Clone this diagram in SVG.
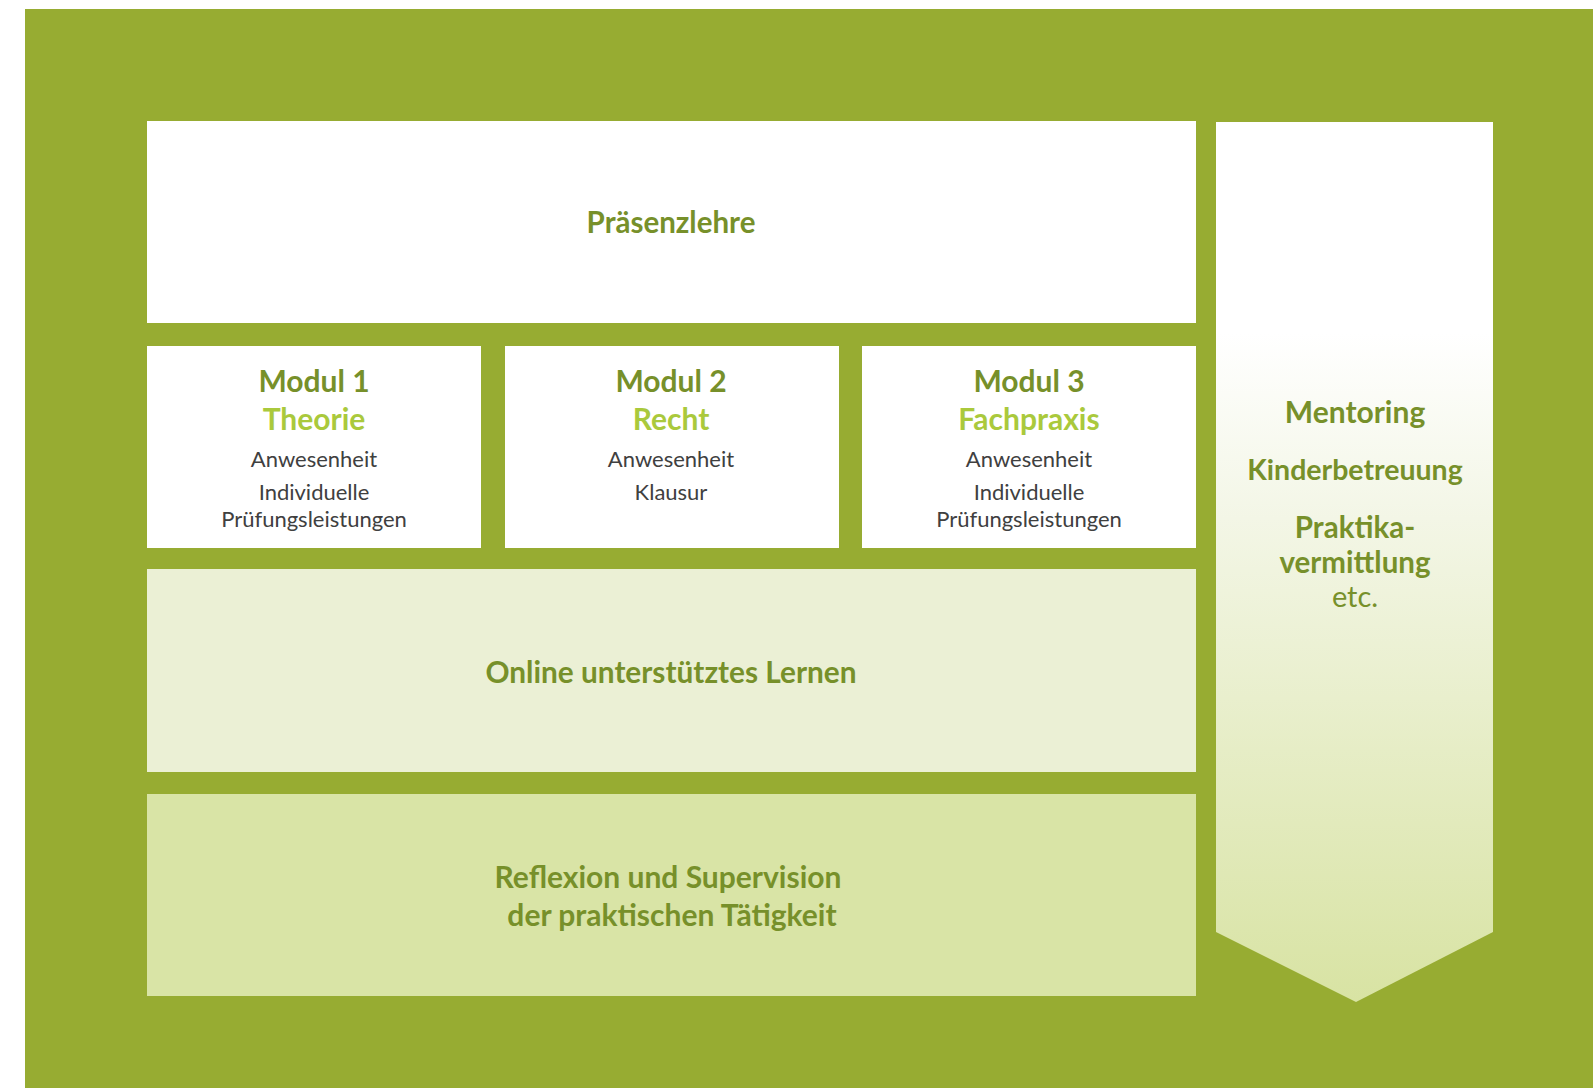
<svg xmlns="http://www.w3.org/2000/svg" width="1593" height="1088" viewBox="0 0 1593 1088">
  <defs>
    <linearGradient id="arrowFill" x1="0" y1="122" x2="0" y2="1002" gradientUnits="userSpaceOnUse">
      <stop offset="0" stop-color="#ffffff"/>
      <stop offset="0.24" stop-color="#ffffff"/>
      <stop offset="0.45" stop-color="#f3f6e6"/>
      <stop offset="1" stop-color="#d8e3a3"/>
    </linearGradient>
    <style>
      text { font-family: Lato, "Open Sans", "Liberation Sans", sans-serif; text-anchor: middle; }
      .head { font-weight: bold; fill: #77902a; }
      .sub { font-weight: bold; fill: #aac93c; }
      .body { fill: #404040; font-size: 22px; }
      .white { fill: #ffffff; }
    </style>
  </defs>

  <!-- frame -->
  <rect x="0" y="0" width="1593" height="1088" fill="#ffffff"/>
  <rect x="25" y="9" width="1568" height="1079" fill="#97ac32"/>

  <g id="praesenzlehre">
    <rect class="white" x="147" y="121" width="1049" height="202"/>
    <text class="head" x="671" y="233" font-size="29.5">Präsenzlehre</text>
  </g>

  <g id="modul1">
    <rect class="white" x="147" y="346" width="334" height="202"/>
    <text class="head" x="314" y="392" font-size="30">Modul 1</text>
    <text class="sub" x="314" y="430" font-size="30">Theorie</text>
    <text class="body" x="314" y="467">Anwesenheit</text>
    <text class="body" x="314" y="500">Individuelle</text>
    <text class="body" x="314" y="527">Prüfungsleistungen</text>
  </g>

  <g id="modul2">
    <rect class="white" x="505" y="346" width="334" height="202"/>
    <text class="head" x="671" y="392" font-size="30">Modul 2</text>
    <text class="sub" x="671" y="430" font-size="30">Recht</text>
    <text class="body" x="671" y="467">Anwesenheit</text>
    <text class="body" x="671" y="500">Klausur</text>
  </g>

  <g id="modul3">
    <rect class="white" x="862" y="346" width="334" height="202"/>
    <text class="head" x="1029" y="392" font-size="30">Modul 3</text>
    <text class="sub" x="1029" y="430" font-size="30">Fachpraxis</text>
    <text class="body" x="1029" y="467">Anwesenheit</text>
    <text class="body" x="1029" y="500">Individuelle</text>
    <text class="body" x="1029" y="527">Prüfungsleistungen</text>
  </g>

  <g id="online">
    <rect x="147" y="569" width="1049" height="203" fill="#ebf0d5"/>
    <text class="head" x="671" y="683" font-size="29.8">Online unterstütztes Lernen</text>
  </g>

  <g id="reflexion">
    <rect x="147" y="794" width="1049" height="202" fill="#d9e4a6"/>
    <text class="head" x="668" y="888" font-size="30">Reflexion und Supervision</text>
    <text class="head" x="672" y="926" font-size="30">der praktischen Tätigkeit</text>
  </g>

  <g id="mentoring">
    <polygon points="1216,122 1493,122 1493,932 1356,1002 1216,932" fill="url(#arrowFill)"/>
    <text class="head" x="1355" y="423" font-size="30">Mentoring</text>
    <text class="head" x="1355" y="480" font-size="28.5">Kinderbetreuung</text>
    <text class="head" x="1355" y="538" font-size="29.5">Praktika-</text>
    <text class="head" x="1355" y="573" font-size="29.5">vermittlung</text>
    <text x="1355" y="607" font-size="29" fill="#77902a">etc.</text>
  </g>

  <!-- no connectors in this layout -->
  <g id="connectors"/>
</svg>
